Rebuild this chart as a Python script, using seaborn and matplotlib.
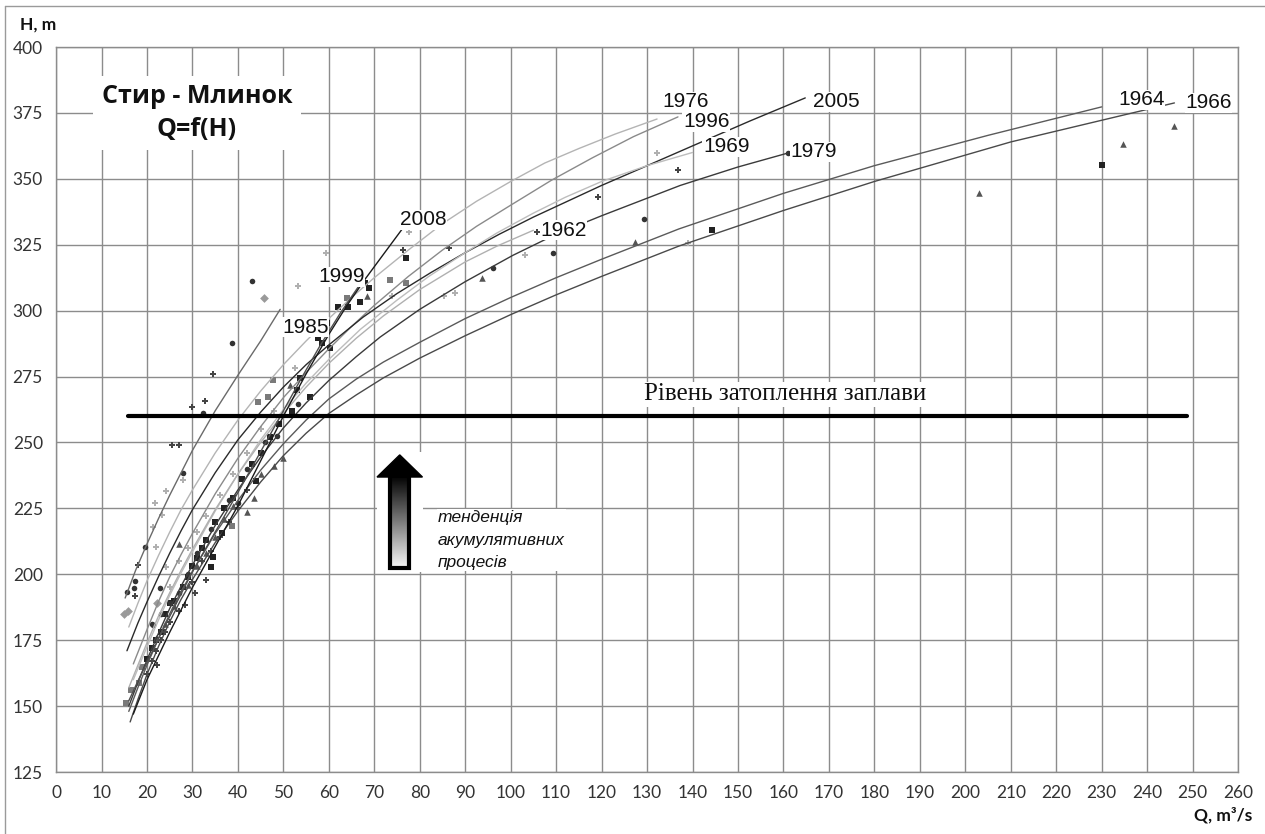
import numpy as np
import pandas as pd
import matplotlib
matplotlib.use("Agg")
from matplotlib import pyplot as plt
from matplotlib.patches import Rectangle, Polygon
import seaborn as sns

# rating curves H(Q), one pair of lists per year
curve_q = {
    "1985": [15.2, 17.5, 20, 22.5, 25, 27.5, 30, 35, 40, 45, 49.3],
    "1976": [16, 18, 20, 22.5, 25, 27.5, 30, 35, 40, 45, 50, 55, 60, 65, 70, 77.5, 85, 92.5,
             100, 107.5, 115, 123, 132.2],
    "1996": [17, 20, 22.5, 25, 27.5, 30, 35, 40, 45, 50, 55, 60, 65, 70, 77.5, 85, 92.5, 100,
             109, 118, 127, 136.8],
    "2005": [15.6, 18, 20, 22.5, 25, 27.5, 30, 35, 40, 45, 50, 55, 60, 67.5, 75, 82.5, 90,
             97.5, 105, 112.5, 120, 130.7, 140, 152.7, 164.8],
    "1969": [17, 20, 22.5, 25, 27.5, 30, 35, 40, 45, 50, 55, 60, 67, 75, 82, 90, 97, 105, 112,
             120, 130, 140],
    "1979": [16, 18, 20, 22.5, 25, 27.5, 30, 35, 40, 45, 50, 55, 60, 66, 71.3, 80, 90, 100.5,
             110, 120, 137.3, 150, 161],
    "1962": [16, 18, 20, 22.5, 25, 27.5, 30, 35, 40, 45, 50, 55, 60, 66, 72, 80, 90, 97, 105],
    "1964": [16, 18, 20, 22.5, 25, 27.5, 30, 35, 40, 45, 50, 55, 60, 66, 72, 80, 90, 100, 110,
             120, 137, 160, 180, 205, 230],
    "1966": [16.3, 18, 20, 22.5, 25, 27.5, 30, 35, 40, 45, 50, 55, 60, 66, 72, 80, 90, 100,
             110, 120, 137, 160, 180, 210, 246],
    "1999": [16, 18, 20, 22.5, 25, 27.5, 30, 35, 40, 45, 50, 54, 58, 62.5, 67.5],
    "2008": [17, 18.5, 20, 22.5, 25, 27.5, 30, 35, 40, 45, 50, 55, 60, 64, 68, 72.5, 76.8],
}
curve_h = {
    "1985": [191, 201.5, 211.5, 221, 230, 238.5, 247, 262, 275.5, 288.5, 300.5],
    "1976": [180, 189, 197.5, 207, 216, 224.5, 232, 246, 258.5, 269.5, 279.5, 288.5, 297, 305,
             312.5, 323, 333, 341.5, 349, 356, 361.5, 367, 372.7],
    "1996": [166, 179, 189.5, 199, 207.5, 215.5, 230.5, 244, 256, 267, 276.5, 285.5, 294, 302,
             313, 323, 332, 340, 349.5, 358, 366, 373.5],
    "2005": [171, 181.5, 189.5, 199, 208, 216.5, 224.5, 238.5, 251, 261.5, 271, 279.5, 287,
             297.5, 306.5, 314.5, 322, 329, 335.5, 341.5, 347.5, 355.5, 362.5, 372, 380.7],
    "1969": [160, 172.5, 182.5, 192, 200.5, 208.5, 224, 238, 251, 262.5, 272.5, 281.5, 293,
             304, 313, 322, 329.5, 337, 343, 349, 355, 360],
    "1979": [150, 159, 167.5, 177.5, 187, 195.5, 203.5, 218.5, 232, 244.5, 255.5, 265, 273.5,
             282.5, 290, 300.5, 311, 321, 329, 336, 347.5, 354.5, 359.8],
    "1962": [157, 165.5, 174, 184, 193, 201.5, 209.5, 224.5, 238, 250, 261, 271, 280, 289.5,
             298, 308, 318.5, 324.5, 330.5],
    "1964": [148, 157, 165.5, 175.5, 185, 193.5, 201, 215.5, 228, 239.5, 249.5, 258.5, 266.5,
             274, 280.5, 288, 297, 305, 312.5, 319.5, 331, 344.5, 355, 366.5, 377.3],
    "1966": [144, 152.5, 162, 172.5, 182, 190.5, 198, 212, 224, 235, 245, 253.5, 261, 268,
             274.5, 282, 290.5, 298.5, 306, 313, 324.5, 338, 349, 364, 378.8],
    "1999": [152, 159.5, 166.5, 175.5, 184, 192.5, 201, 216, 231, 246.5, 262, 274.5, 286.5,
             299, 311.6],
    "2008": [147, 153.5, 160, 169, 178, 186.5, 195, 210.5, 226, 243, 260, 276, 291, 302, 312,
             322.5, 332.5],
}

# measured points, grouped by marker kind
circle_q = [43.1, 38.7, 32.3, 53.2, 48.6, 27.9, 19.6, 17.4, 17.2, 15.6, 22.9, 21.3, 40, 96.1,
            109.3, 129.3, 161, 21, 23, 25, 27, 29, 31, 34, 38, 42, 46]
circle_h = [311.3, 287.7, 261.2, 264.6, 252.5, 238.4, 210.4, 197.5, 194.8, 193.3, 194.8, 180.8,
            227, 316.2, 321.9, 334.8, 359.8, 181, 185, 189, 193, 200, 208, 217, 228, 240, 250]
square_q = [68.9, 68, 66.9, 64.2, 62, 59.6, 57.6, 58.5, 60.3, 53.7, 55.9, 77, 36.5, 34.5, 34.1,
            44, 144.3, 230, 20, 21, 22, 23, 24, 25, 26, 28, 29, 30, 31, 32, 33, 35, 37, 39, 41,
            43, 45, 47, 49, 52, 53]
square_h = [308.6, 310.5, 303.3, 301.4, 301.4, 295.3, 289.6, 287.7, 285.8, 274.5, 267.3, 320,
            215.7, 206.6, 202.8, 235.4, 330.6, 355.3, 168, 172, 175, 178, 185, 189, 190, 195,
            199, 203, 206, 210, 213, 220, 225, 229, 236, 242, 246, 252, 257, 262, 270]
square2_q = [64, 47.7, 46.6, 77, 15.4, 16.5, 18.3, 18.9, 38.7, 44.4, 73.5]
square2_h = [304.8, 273.7, 267.3, 310.5, 151.2, 156.1, 158.8, 164.8, 218.3, 265.4, 311.6]
triangle_q = [68.4, 51.5, 93.7, 127.4, 203, 234.7, 245.9, 43.6, 42, 48, 27, 22, 24, 26, 29,
              31, 33, 35, 37, 39, 45, 50]
triangle_h = [305.6, 271.8, 312.4, 326, 344.6, 363.2, 370, 229, 223.6, 241.1, 211.5, 176, 181,
              188, 196, 203, 208, 214, 221, 226, 238, 244]
plus_q = [34.5, 32.8, 29.9, 25.5, 27, 18, 17.4, 22.2, 33, 30.6, 28.4, 76.3, 86.5, 105.8, 119.2,
          136.8, 20, 21, 22, 23, 24, 25, 27, 30, 32, 34, 36, 38, 40, 42]
plus_h = [276, 265.7, 263.5, 249, 249, 203.5, 191.8, 165.6, 197.8, 192.9, 188.4, 323, 323.8,
          329.9, 343.1, 353.4, 162, 167, 171, 175, 178, 182, 186, 197, 205, 209, 214, 220, 225, 232]
light_q = [27.9, 24.2, 21.8, 23.3, 21.3, 22, 59.4, 53.2, 77.7, 74, 85.3, 87.8, 103.2, 132.2,
           139, 52.6, 25, 27, 29, 31, 33, 36, 39, 42, 45, 48, 24.2, 53.2]
light_h = [235.8, 231.6, 227, 222.5, 218, 210.4, 321.9, 309.4, 329.9, 305.6, 305.6, 306.7, 321,
           359.8, 325.7, 278.3, 195, 205, 210, 216, 222, 230, 238, 246, 255, 262, 202.8, 295.3]
diamond_q = [15, 15.8, 22.2, 45.8]
diamond_h = [185, 186.1, 189.1, 304.8]

flood_level = 260
flood_q = [15.8, 248.8]

curve_colors = {
    "1985": "#6a6a6a", "1976": "#b4b4b4", "1996": "#8a8a8a", "2005": "#2a2a2a",
    "1969": "#bdbdbd", "1979": "#3a3a3a", "1962": "#b0b0b0", "1964": "#5a5a5a",
    "1966": "#4a4a4a", "1999": "#4f4f4f", "2008": "#1a1a1a",
}
label_pos = {
    "1985": (49.7, 293.8), "1976": (133.3, 379.2), "1996": (137.9, 371.6),
    "2005": (166.5, 379.2), "1969": (142.3, 362.1), "1979": (161.5, 360.2),
    "1962": (106.5, 330.6), "1964": (233.6, 380.0), "1966": (248.4, 378.8),
    "1999": (57.6, 312.8), "2008": (75.7, 334.4),
}

sns.set_theme(style="white")
plt.rcParams["font.family"] = ["Liberation Sans", "DejaVu Sans"]

fig = plt.figure(figsize=(12.65, 8.34), dpi=100)
ax = fig.add_axes([0.0443, 0.0743, 0.9344, 0.8693])

grid_c = "#8c8c8c"
ax.set_xlim(0, 260)
ax.set_ylim(125, 400)
ax.set_xticks(np.arange(0, 261, 10))
ax.set_yticks(np.arange(125, 401, 25))
ax.grid(True, color=grid_c, lw=1.0, zorder=0)
ax.set_axisbelow(True)
for s in ax.spines.values():
    s.set_color(grid_c)
    s.set_linewidth(1.0)
ax.tick_params(axis="both", direction="out", length=5.5, width=1.0, color=grid_c,
               labelsize=12.5, labelcolor="#333333", pad=4)
for t in ax.get_xticklabels() + ax.get_yticklabels():
    t.set_family(["Lato", "DejaVu Sans"])

# scatter of measurements
groups = [
    (square_q, square_h, "s", "#222222", 20),
    (square2_q, square2_h, "s", "#7a7a7a", 20),
    (triangle_q, triangle_h, "^", "#555555", 22),
    (circle_q, circle_h, "o", "#333333", 16),
    (plus_q, plus_h, "P", "#444444", 22),
    (light_q, light_h, "P", "#b0b0b0", 22),
    (diamond_q, diamond_h, "D", "#9a9a9a", 20),
]
for q, h, m, c, s in groups:
    sns.scatterplot(x=q, y=h, marker=m, color=c, s=s, linewidth=0, ax=ax, zorder=3)

# rating curves
for year in curve_q:
    sns.lineplot(x=curve_q[year], y=curve_h[year], sort=False, estimator=None,
                 color=curve_colors[year], lw=1.0, ax=ax, zorder=4)
    lx, ly = label_pos[year]
    ax.text(lx, ly, year, fontsize=15, ha="left", va="center", color="#111111", zorder=6,
            bbox=dict(facecolor="white", edgecolor="none", pad=0.5))

# flood plain level
sns.lineplot(x=flood_q, y=[flood_level, flood_level], color="black", lw=3.0, ax=ax, zorder=5)
ax.text(160.4, 268.3, "Рівень затоплення заплави", family=["Liberation Serif", "DejaVu Serif"],
        fontsize=18, ha="center", va="center", color="#111111", zorder=6,
        bbox=dict(facecolor="white", edgecolor="none", pad=1))

# arrow with gradient body
ax.add_patch(Rectangle((70.5, 201.0), 10.2, 45.5, facecolor="white", edgecolor="none", zorder=5))
grad = np.linspace(0.97, 0.0, 256).reshape(-1, 1)
im = ax.imshow(grad, cmap="gray", vmin=0, vmax=1, origin="lower", aspect="auto",
               extent=[73.5, 77.7, 202.4, 237.5], zorder=6)
body = Rectangle((73.5, 202.4), 4.2, 35.1, facecolor="none", edgecolor="black", lw=3, zorder=7)
ax.add_patch(body)
im.set_clip_path(body)
ax.add_patch(Polygon([[70.6, 236.9], [80.6, 236.9], [75.6, 245.3]], closed=True,
                     facecolor="black", edgecolor="black", zorder=7))
ax.set_xlim(0, 260)
ax.set_ylim(125, 400)
ax.text(84.0, 213.0, "тенденція\nакумулятивних\nпроцесів", fontsize=12.5, style="italic",
        ha="left", va="center", linespacing=1.6, color="#111111", zorder=6,
        bbox=dict(facecolor="white", edgecolor="none", pad=1))

# title block
ax.text(31.0, 375.0, "Стир - Млинок\nQ=f(H)", family=["Open Sans", "DejaVu Sans"],
        fontsize=18, fontweight="bold", ha="center", va="center", linespacing=1.4,
        color="#111111", zorder=6, bbox=dict(facecolor="white", edgecolor="none", pad=6))

# axis titles
fig.text(20 / 1265, 1 - 25 / 834, "H, m", family=["Lato", "DejaVu Sans"], fontsize=12.5,
         fontweight="bold", ha="left", va="center", color="#111111")
fig.text(1252 / 1265, 1 - 815 / 834, "Q, m³/s", family=["Lato", "DejaVu Sans"], fontsize=12.5,
         fontweight="bold", ha="right", va="center", color="#111111")

# outer frame (left and top edges visible)
fig.add_artist(plt.Line2D([5 / 1265, 5 / 1265], [0, 1 - 6 / 834], color="#9a9a9a", lw=1))
fig.add_artist(plt.Line2D([5 / 1265, 1], [1 - 6 / 834, 1 - 6 / 834], color="#9a9a9a", lw=1))

ax.set_xlabel("")
ax.set_ylabel("")
fig.savefig("out.png", dpi=100)
